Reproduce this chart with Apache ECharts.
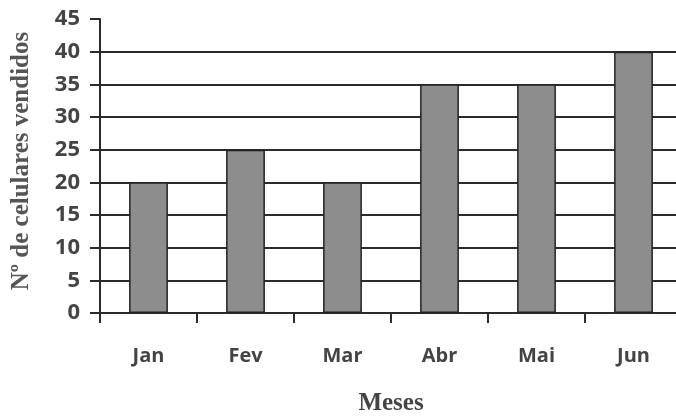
<!DOCTYPE html>
<html>
<head>
<meta charset="utf-8">
<script src="https://cdn.jsdelivr.net/npm/echarts@6/dist/echarts.min.js"></script>
<style>
  html, body { margin: 0; padding: 0; background: #fff; }
  #chart { width: 676px; height: 416px; }
</style>
</head>
<body>
<div id="chart"></div>
<script>
var meses = ['Jan', 'Fev', 'Mar', 'Abr', 'Mai', 'Jun'];
var vendidos = [20, 25, 20, 35, 35, 40];
var yMin = 0, yMax = 45, yStep = 5;

var chart = echarts.init(document.getElementById('chart'), null, {renderer: 'canvas'});
var lineColor = '#2b2b2b';

var option = {
    backgroundColor: '#fff',
    animation: false,
    grid: {
        left: 100,
        top: 19,
        width: 582,
        bottom: 103,
        outerBoundsMode: 'none'
    },
    xAxis: {
        type: 'category',
        data: meses,
        name: 'Meses',
        nameLocation: 'middle',
        nameGap: 78,
        nameTextStyle: {
            fontFamily: 'Liberation Serif',
            fontWeight: 'bold',
            fontSize: 25,
            color: '#444'
        },
        axisLine: {lineStyle: {color: lineColor, width: 2}},
        axisTick: {show: true, length: 10, lineStyle: {color: lineColor, width: 2}},
        axisLabel: {
            margin: 33,
            fontFamily: 'Open Sans',
            fontWeight: 'bold',
            fontSize: 20,
            color: '#444'
        }
    },
    yAxis: {
        type: 'value',
        min: yMin,
        max: yMax,
        interval: yStep,
        name: 'Nº de celulares vendidos',
        nameLocation: 'middle',
        nameGap: 66,
        nameTextStyle: {
            fontFamily: 'Liberation Serif',
            fontWeight: 'bold',
            fontSize: 25,
            color: '#555',
            padding: [0, 0, 0, 10]
        },
        axisLine: {show: true, lineStyle: {color: lineColor, width: 2}},
        axisTick: {show: true, length: 10, lineStyle: {color: lineColor, width: 2}},
        axisLabel: {
            margin: 20,
            fontFamily: 'Open Sans',
            fontWeight: 'bold',
            fontSize: 22,
            color: '#444'
        },
        splitLine: {
            show: true,
            showMaxLine: false,
            lineStyle: {color: lineColor, width: 2}
        }
    },
    series: [{
        type: 'bar',
        data: vendidos,
        barWidth: '40%',
        itemStyle: {
            color: '#8d8d8d',
            borderColor: '#222',
            borderWidth: 1.5
        }
    }]
};

chart.setOption(option);
</script>
</body>
</html>
